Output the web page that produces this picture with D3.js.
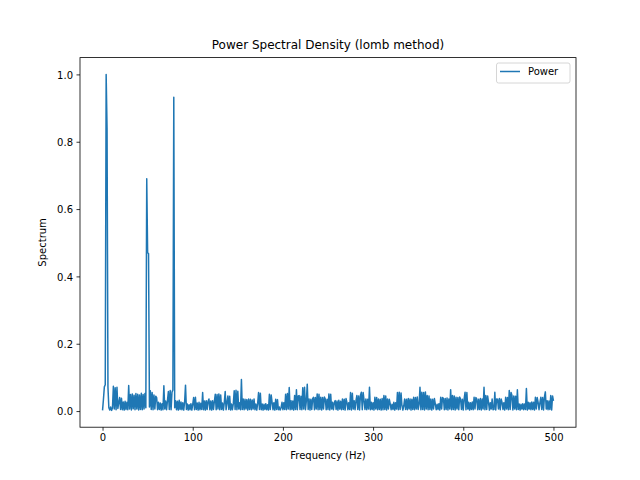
<!DOCTYPE html>
<html>
<head>
<meta charset="utf-8">
<script src="https://cdn.jsdelivr.net/npm/d3@7"></script>
<style>
  html, body { margin: 0; padding: 0; background: #ffffff; }
  svg { display: block; }
  text { font-family: "DejaVu Sans", sans-serif; fill: #000; }
</style>
</head>
<body>
<svg id="chart" width="640" height="480"></svg>
<script>
// ---- data ----
const freqStart = 0;      // Hz of first sample
const freqStep = 1;       // Hz between samples
const power = [
  0.002,0.035,0.072,0.078,1.000,0.840,0.071,0.010,0.003,0.012,
  0.002,0.009,0.074,0.006,0.069,0.004,0.071,0.008,0.026,0.040,
  0.005,0.038,0.004,0.027,0.003,0.029,0.005,0.026,0.004,0.076,
  0.006,0.049,0.003,0.051,0.007,0.047,0.004,0.052,0.006,0.050,
  0.003,0.048,0.005,0.053,0.004,0.049,0.006,0.052,0.010,0.690,
  0.470,0.468,0.012,0.060,0.005,0.055,0.004,0.048,0.006,0.044,
  0.040,0.004,0.026,0.005,0.024,0.003,0.022,0.004,0.075,0.006,
  0.030,0.004,0.031,0.058,0.005,0.061,0.004,0.056,0.063,0.932,
  0.010,0.031,0.004,0.029,0.003,0.032,0.005,0.027,0.004,0.025,
  0.003,0.026,0.077,0.005,0.021,0.003,0.019,0.004,0.022,0.003,
  0.020,0.040,0.004,0.041,0.005,0.024,0.003,0.026,0.004,0.023,
  0.005,0.055,0.004,0.030,0.003,0.031,0.005,0.029,0.036,0.004,
  0.030,0.003,0.031,0.005,0.029,0.050,0.004,0.049,0.006,0.051,
  0.004,0.048,0.005,0.024,0.003,0.025,0.058,0.004,0.026,0.045,
  0.005,0.044,0.003,0.021,0.004,0.022,0.060,0.005,0.062,0.004,
  0.059,0.006,0.025,0.004,0.094,0.005,0.036,0.004,0.035,0.006,
  0.034,0.003,0.036,0.005,0.035,0.004,0.033,0.006,0.036,0.004,
  0.021,0.003,0.022,0.055,0.005,0.053,0.004,0.021,0.003,0.020,
  0.005,0.022,0.004,0.019,0.003,0.050,0.005,0.048,0.026,0.004,
  0.025,0.003,0.035,0.005,0.034,0.004,0.012,0.003,0.010,0.026,
  0.004,0.025,0.005,0.050,0.004,0.052,0.006,0.070,0.004,0.031,
  0.005,0.030,0.003,0.046,0.005,0.063,0.004,0.045,0.046,0.005,
  0.044,0.004,0.069,0.006,0.071,0.004,0.030,0.080,0.005,0.036,
  0.003,0.035,0.005,0.037,0.041,0.004,0.040,0.006,0.051,0.004,
  0.050,0.005,0.041,0.003,0.040,0.006,0.042,0.036,0.004,0.035,
  0.005,0.051,0.003,0.050,0.006,0.026,0.004,0.025,0.031,0.005,
  0.030,0.003,0.032,0.006,0.029,0.004,0.036,0.005,0.035,0.003,
  0.037,0.026,0.004,0.025,0.005,0.055,0.003,0.053,0.006,0.031,
  0.004,0.030,0.046,0.005,0.045,0.003,0.047,0.056,0.004,0.055,
  0.031,0.005,0.036,0.004,0.035,0.006,0.071,0.004,0.026,0.005,
  0.025,0.003,0.041,0.006,0.040,0.004,0.036,0.005,0.035,0.003,
  0.037,0.004,0.046,0.005,0.045,0.003,0.036,0.006,0.035,0.021,
  0.004,0.020,0.005,0.026,0.003,0.025,0.006,0.055,0.004,0.056,
  0.005,0.054,0.016,0.003,0.015,0.036,0.005,0.035,0.004,0.037,
  0.006,0.036,0.003,0.035,0.005,0.041,0.004,0.040,0.006,0.042,
  0.005,0.020,0.071,0.004,0.056,0.005,0.055,0.003,0.057,0.006,
  0.046,0.004,0.045,0.005,0.036,0.003,0.035,0.006,0.037,0.021,
  0.004,0.020,0.005,0.022,0.003,0.041,0.006,0.040,0.038,0.004,
  0.037,0.005,0.039,0.003,0.036,0.006,0.063,0.004,0.046,0.005,
  0.045,0.003,0.041,0.006,0.040,0.004,0.042,0.036,0.005,0.035,
  0.003,0.037,0.056,0.004,0.055,0.006,0.026,0.003,0.025,0.005,
  0.027,0.004,0.041,0.006,0.040,0.036,0.004,0.035,0.005,0.037,
  0.003,0.036,0.006,0.071,0.004,0.046,0.005,0.045,0.026,0.003,
  0.025,0.006,0.036,0.004,0.005,0.056,0.003,0.036,0.035,0.006,
  0.037,0.004,0.036,0.026,0.005,0.025,0.003,0.041,0.006,0.040,
  0.004,0.061,0.005,0.055,0.046,0.003,0.045,0.006,0.044,0.004,
  0.063,0.005,0.021,0.003,0.020,0.006,0.022,0.004,0.021,0.005,
  0.067,0.003,0.026,0.006,0.025,0.004,0.027,0.005,0.026,0.003,
  0.041,0.006,0.040,0.026,0.004,0.025,0.041,0.005,0.040,0.003,
  0.042,0.057,0.006,0.031,0.004,0.030,0.005,0.046,0.003,0.045,
  0.030
];
const xTicks = [0, 100, 200, 300, 400, 500];
const yTicks = [0.0, 0.2, 0.4, 0.6, 0.8, 1.0];
const titleText = "Power Spectral Density (lomb method)";
const xLabelText = "Frequency (Hz)";
const yLabelText = "Spectrum";
const seriesName = "Power";

(function () {
// ---- layout ----
const W = 640, H = 480;
const axL = 80, axR = 576, axT = 57.6, axB = 427.2;
const color = "#1f77b4";

const data = power.map((v, i) => ({ f: freqStart + i * freqStep, p: v }));

const xe = d3.extent(data, d => d.f);
const ye = d3.extent(data, d => d.p);
const xp = (xe[1] - xe[0]) * 0.05, yp = (ye[1] - ye[0]) * 0.05;

const x = d3.scaleLinear().domain([xe[0] - xp, xe[1] + xp]).range([axL, axR]);
const y = d3.scaleLinear().domain([ye[0] - yp, ye[1] + yp]).range([axB, axT]);

const svg = d3.select("#chart");
svg.append("rect").attr("width", W).attr("height", H).attr("fill", "#fff");

svg.append("clipPath").attr("id", "clip").append("rect")
  .attr("x", axL).attr("y", axT).attr("width", axR - axL).attr("height", axB - axT);

const line = d3.line().x(d => x(d.f)).y(d => y(d.p));
svg.append("path")
  .datum(data)
  .attr("clip-path", "url(#clip)")
  .attr("fill", "none")
  .attr("stroke", color)
  .attr("stroke-width", 1.5)
  .attr("stroke-linejoin", "round")
  .attr("d", line);

const xAxis = d3.axisBottom(x).tickValues(xTicks).tickSize(3.5).tickPadding(3.5).tickFormat(d3.format("d"));
const yAxis = d3.axisLeft(y).tickValues(yTicks).tickSize(3.5).tickPadding(3.5).tickFormat(d3.format(".1f"));

const gx = svg.append("g").attr("transform", `translate(0,${axB})`).call(xAxis);
const gy = svg.append("g").attr("transform", `translate(${axL},0)`).call(yAxis);
[gx, gy].forEach(g => {
  g.select(".domain").remove();
  g.selectAll(".tick line").attr("stroke", "#000").attr("stroke-width", 0.8);
  g.selectAll(".tick text").attr("font-family", "DejaVu Sans").attr("font-size", 10).attr("fill", "#000");
});
gx.selectAll(".tick text").attr("dy", null).attr("y", 14.3);
gy.selectAll(".tick text").attr("dy", null).attr("y", 3.6);

svg.append("rect")
  .attr("x", axL).attr("y", axT).attr("width", axR - axL).attr("height", axB - axT)
  .attr("fill", "none").attr("stroke", "#000").attr("stroke-width", 0.8);

svg.append("text").attr("x", (axL + axR) / 2).attr("y", 48.5)
  .attr("text-anchor", "middle").attr("font-size", 12).text(titleText);
svg.append("text").attr("x", (axL + axR) / 2).attr("y", 459)
  .attr("text-anchor", "middle").attr("font-size", 10).text(xLabelText);
svg.append("text")
  .attr("transform", `translate(45.5,${(axT + axB) / 2}) rotate(-90)`)
  .attr("text-anchor", "middle").attr("font-size", 10).text(yLabelText);

const lg = svg.append("g");
lg.append("rect").attr("x", 496.5).attr("y", 63).attr("width", 73.5).attr("height", 20)
  .attr("rx", 2).attr("fill", "#fff").attr("fill-opacity", 0.8)
  .attr("stroke", "#cccccc").attr("stroke-width", 0.8);
lg.append("line").attr("x1", 500).attr("x2", 520).attr("y1", 71.5).attr("y2", 71.5)
  .attr("stroke", color).attr("stroke-width", 1.5);
lg.append("text").attr("x", 528).attr("y", 75.2).attr("font-size", 10).text(seriesName);
})();
</script>
</body>
</html>
